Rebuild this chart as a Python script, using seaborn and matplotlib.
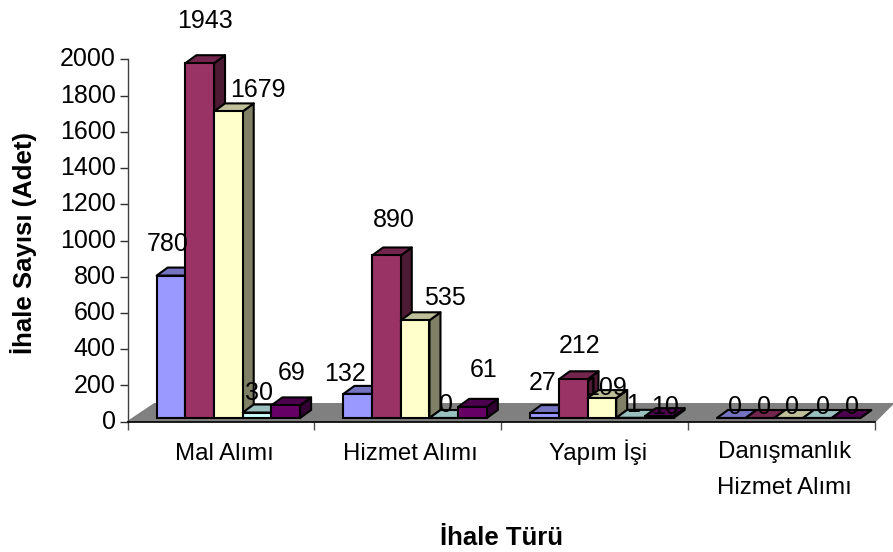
import pandas as pd
import matplotlib
matplotlib.use("Agg")
import matplotlib.pyplot as plt
from matplotlib.colors import to_rgb
from matplotlib.patches import Polygon
from matplotlib.transforms import ScaledTranslation
import seaborn as sns

# Values
categories = ['Mal Alımı', 'Hizmet Alımı', 'Yapım İşi', 'Danışmanlık\nHizmet Alımı']
series_names = ['A', 'B', 'C', 'D', 'E']
series_a = [780, 132, 27, 0]
series_b = [1943, 890, 212, 0]
series_c = [1679, 535, 109, 0]
series_d = [30, 0, 1, 0]
series_e = [69, 61, 10, 0]
colors = ['#9999FF', '#993366', '#FFFFCC', '#CCFFFF', '#660066']
y_ticks = list(range(0, 2001, 200))

# Label offsets from each bar's top centre, in pixels
label_dx = [[-3, -13, -2, 4], [5, 7, 6, 4], [29, 30, 4, 3], [2, 2, 3, 6], [6, 11, 6, 6]]
label_dy = [[32, 20, 30, 11], [42, 35, 33, 11], [21, 22, 10, 11], [20, 13, 13, 11], [32, 37, 9, 11]]

W, H = 893, 552
DEPTH_X, DEPTH_Y = 11, 8


def shade(color, factor):
    return tuple(c * factor for c in to_rgb(color))


def main():
    sns.set_style('white')
    plt.rcParams['font.family'] = ['Liberation Sans', 'DejaVu Sans']

    df = pd.DataFrame({
        'category': categories * 5,
        'series': [s for s in series_names for _ in categories],
        'value': series_a + series_b + series_c + series_d + series_e,
    })

    fig = plt.figure(figsize=(W / 100, H / 100), dpi=100)

    # Axes carrying the ticks and the grey floor
    ax_back = fig.add_axes([127.5 / W, 1 - 421.7 / H, 747.5 / W, 362.4 / H])
    ax_back.set_xlim(-0.5, 3.5)
    ax_back.set_ylim(0, 2000)
    ax_back.set_yticks(y_ticks)
    ax_back.set_xticks([-0.5, 0.5, 1.5, 2.5, 3.5])
    ax_back.set_xticklabels([])
    ax_back.set_xticks(range(4), labels=categories, minor=True)
    ax_back.tick_params(axis='y', left=True, length=6, width=1, color='#303030',
                        labelsize=18, labelcolor='black', pad=2.5)
    ax_back.tick_params(axis='x', which='major', bottom=True, length=6, width=1, color='#505050')
    ax_back.tick_params(axis='x', which='minor', bottom=False, length=0, labelsize=17.3,
                        labelcolor='black', pad=27.4)
    # baseline alignment keeps the single lines level; it anchors on the last line,
    # so the two-line label has to be pushed down by one line
    for i, label in enumerate(ax_back.get_xticklabels(minor=True)):
        label.set_linespacing(1.8)
        label.set_verticalalignment('baseline')
        down = 34 if '\n' in categories[i] else 0
        label.set_transform(label.get_transform()
                            + ScaledTranslation(3 / 100, -down / 100, fig.dpi_scale_trans))
    # the reference prints its y labels slightly above the tick
    lift = ScaledTranslation(0, 1.7 / 72, fig.dpi_scale_trans)
    for label in ax_back.get_yticklabels():
        label.set_transform(label.get_transform() + lift)
    sns.despine(ax=ax_back, top=True, right=True)
    ax_back.spines['left'].set_linewidth(1)
    ax_back.spines['left'].set_color('#404040')
    ax_back.spines['bottom'].set_linewidth(1.2)
    ax_back.spines['bottom'].set_color('black')
    ax_back.spines['bottom'].set_zorder(5)

    back_sx = 4 / 747.5
    back_sy = 2000 / 362.4
    floor = Polygon([(-0.5, 0), (-0.5 + 27 * back_sx, 18 * back_sy),
                     (3.5 + 18 * back_sx, 18 * back_sy), (3.5, 0)],
                    closed=True, facecolor='#808080', edgecolor='#808080',
                    clip_on=False, zorder=1)
    ax_back.add_patch(floor)

    # Axes carrying the bars: the front plane sits a little off the back scale
    bar_scale = 0.1826
    ax = fig.add_axes([135 / W, 1 - 418 / H, 747 / W, bar_scale * 2000 / H])
    sns.barplot(data=df, x='category', y='value', hue='series', hue_order=series_names,
                palette=colors, saturation=1, width=0.768, gap=0, legend=False,
                edgecolor='black', linewidth=1.5, ax=ax)
    ax.set_xlim(-0.5, 3.5)
    ax.set_ylim(0, 2000)
    ax.patch.set_visible(False)
    ax.axis('off')

    dx = DEPTH_X * 4 / 747
    dy = DEPTH_Y / bar_scale
    for h, container in enumerate(ax.containers):
        color = colors[h]
        for g, bar in enumerate(container):
            x0 = bar.get_x()
            x1 = x0 + bar.get_width()
            top = bar.get_height()
            z = 10 + g * 10 + h * 2
            bar.set_zorder(z + 1)
            bar.set_clip_on(False)
            top_face = Polygon([(x0, top), (x0 + dx, top + dy), (x1 + dx, top + dy), (x1, top)],
                               closed=True, facecolor=shade(color, 0.75), edgecolor='black',
                               linewidth=1.5, joinstyle='round', clip_on=False, zorder=z)
            side_face = Polygon([(x1, 0), (x1 + dx, dy), (x1 + dx, top + dy), (x1, top)],
                                closed=True, facecolor=shade(color, 0.5), edgecolor='black',
                                linewidth=1.5, joinstyle='round', clip_on=False, zorder=z)
            ax.add_patch(side_face)
            ax.add_patch(top_face)
            ax.annotate(f'{int(top)}', xy=(x0 + bar.get_width() / 2, top),
                        xytext=(label_dx[h][g], label_dy[h][g]), textcoords='offset pixels',
                        ha='center', va='center', fontsize=18, color='black',
                        annotation_clip=False, zorder=200)

    fig.text(24 / W, 1 - 243 / H, 'İhale Sayısı (Adet)', rotation=90, ha='center', va='center',
             fontsize=18.5, fontweight='bold', color='black')
    fig.text(501 / W, 1 - 538 / H, 'İhale Türü', ha='center', va='center',
             fontsize=18.5, fontweight='bold', color='black')

    fig.savefig('out.png', dpi=100)


if __name__ == "__main__":
    main()
